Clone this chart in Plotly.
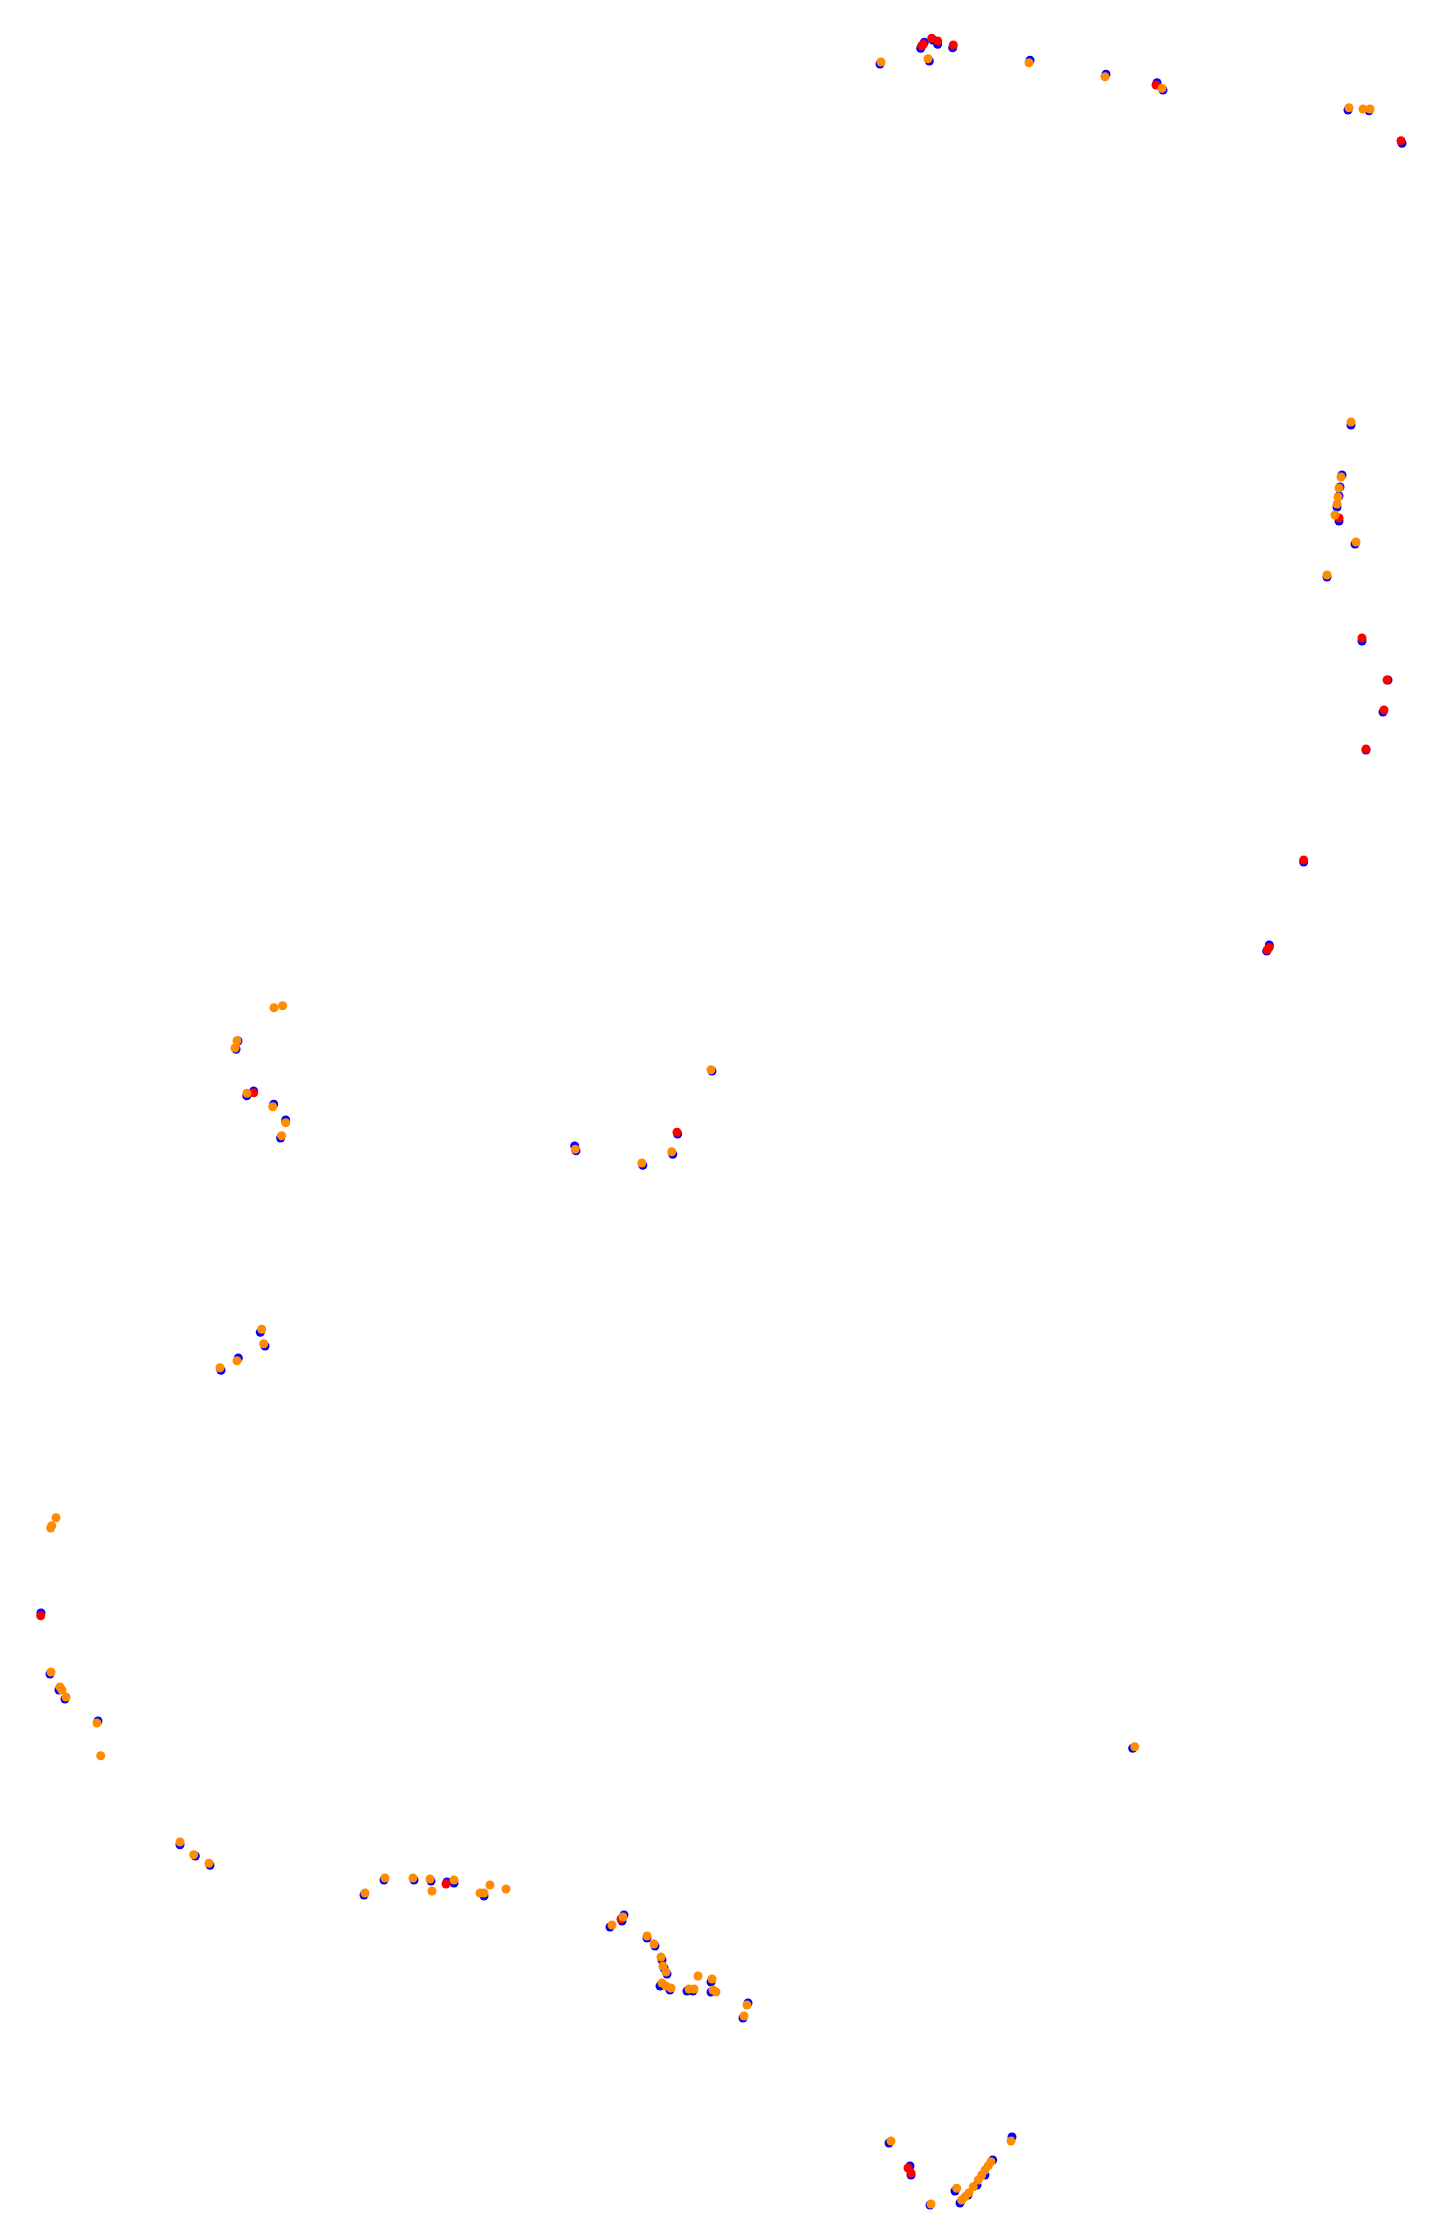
import plotly.graph_objects as go

# Track position samples (x, y in map units; y grows downward)
blue_x = [880, 920.7, 924.3, 933, 937.7, 952.7, 929.3, 1030, 1106, 1157, 1163, 1348, 1369, 1402,
          1351, 1342, 1340, 1339, 1337, 1339, 1355, 1327, 1362, 1388, 1383, 1366, 1303.7, 1269.3, 1266.7,
          238, 236, 246.8, 253.7, 273.7, 285.7, 280.6,
          712, 677.6, 576, 574.7, 672.8, 642.8,
          260.3, 265, 238.3, 221,
          41, 50, 59, 65, 98,
          180, 195.3, 210,
          364, 384, 414, 431, 447, 454, 484,
          610, 622, 624, 647, 655, 662, 664, 667, 660, 670, 687, 693, 711, 711, 748, 743,
          1132.7,
          889, 910, 911, 930, 955, 1012, 960, 968, 977, 985, 992.7]
blue_y = [64, 48.3, 42.3, 40, 44.3, 47.7, 61, 60.3, 74.3, 82.7, 90, 110, 110.7, 143.3,
          425, 475, 487, 496, 507, 521, 544, 577, 641, 680, 712, 750, 862, 945, 951,
          1041, 1049.3, 1095.7, 1091, 1104.3, 1120, 1138,
          1071, 1134, 1150.7, 1146, 1154.3, 1165.3,
          1332.3, 1346, 1358, 1370.3,
          1613, 1674, 1690, 1699, 1721,
          1844.7, 1856, 1865.3,
          1895, 1880, 1880, 1881, 1882, 1883, 1896,
          1927, 1921, 1915, 1938, 1946, 1960, 1968, 1974, 1986, 1990, 1991, 1991, 1982, 1992, 2003, 2018,
          1748.3,
          2143, 2166, 2175, 2205, 2191, 2137, 2203, 2195, 2185, 2175, 2160]

red_x = [921.7, 923.3, 931.7, 937.7, 953.3, 1156, 1401, 1339, 1362, 1387, 1384, 1366, 1303.7,
         1269.3, 1267.3, 253.7, 677, 40.7, 446, 621, 908, 911]
red_y = [45.7, 44.3, 38.3, 41, 45, 85, 140.7, 518, 638, 680, 710, 749, 860,
         947.3, 950, 1092.7, 1132.3, 1615.7, 1884, 1919, 2168, 2173]

orange_x = [881, 928, 1029, 1105, 1162, 1349, 1363, 1370,
            1351, 1341, 1339, 1338, 1337, 1335, 1356, 1327,
            274, 282.6, 237, 235, 247, 272.7, 285.7, 281.6,
            711, 575.3, 671.8, 641.8,
            261.7, 263.7, 237, 220,
            56, 51.7, 50.7, 51, 60, 62, 66, 97, 100.7,
            180, 193.7, 209,
            365, 385, 413, 430, 432, 454, 480, 484, 490, 506,
            612, 623, 647, 654, 661, 663, 666, 662, 666, 671, 689, 694, 698, 712, 713, 716, 747, 744,
            1134.7,
            891, 931, 956.7, 1011, 961.7, 965, 969, 973.3, 978.3, 981.7, 985, 988.3, 991]
orange_y = [62, 58.7, 62.7, 76.7, 88.3, 107.7, 109, 109,
            422, 477, 488, 497, 504, 515, 542, 575,
            1007.7, 1005.7, 1040.7, 1048, 1093.3, 1106.7, 1122.7, 1135.7,
            1069.7, 1149.3, 1151.7, 1163,
            1329.3, 1343.7, 1360.7, 1367.7,
            1517.7, 1525.7, 1528, 1672, 1687, 1690, 1697, 1723, 1755.7,
            1842, 1854.7, 1863.3,
            1893, 1878, 1878, 1879, 1891, 1880, 1893, 1893, 1885, 1889,
            1925, 1917, 1936, 1944, 1957, 1966, 1972, 1983, 1986, 1988, 1989, 1989, 1976, 1979, 1990, 1992, 2005, 2016,
            1746.7,
            2141, 2204, 2188.3, 2141, 2200, 2196.7, 2192.7, 2186.7, 2180, 2175, 2170, 2165.7, 2161.7]

fig = go.Figure()
for xs, ys, col in [(blue_x, blue_y, "#0000ff"), (red_x, red_y, "#ff0000"), (orange_x, orange_y, "#ff8c00")]:
    fig.add_trace(go.Scatter(x=xs, y=ys, mode="markers",
                             marker=dict(color=col, size=9, line=dict(width=0)),
                             hoverinfo="skip"))

fig.update_layout(
    width=1447, height=2237,
    margin=dict(l=0, r=0, t=0, b=0),
    paper_bgcolor="white", plot_bgcolor="white",
    showlegend=False,
    xaxis=dict(range=[8, 1455], visible=False, showgrid=False, zeroline=False),
    yaxis=dict(range=[2245, 8], visible=False, showgrid=False, zeroline=False),
)
fig.write_html("out.html", config={"displayModeBar": False})
